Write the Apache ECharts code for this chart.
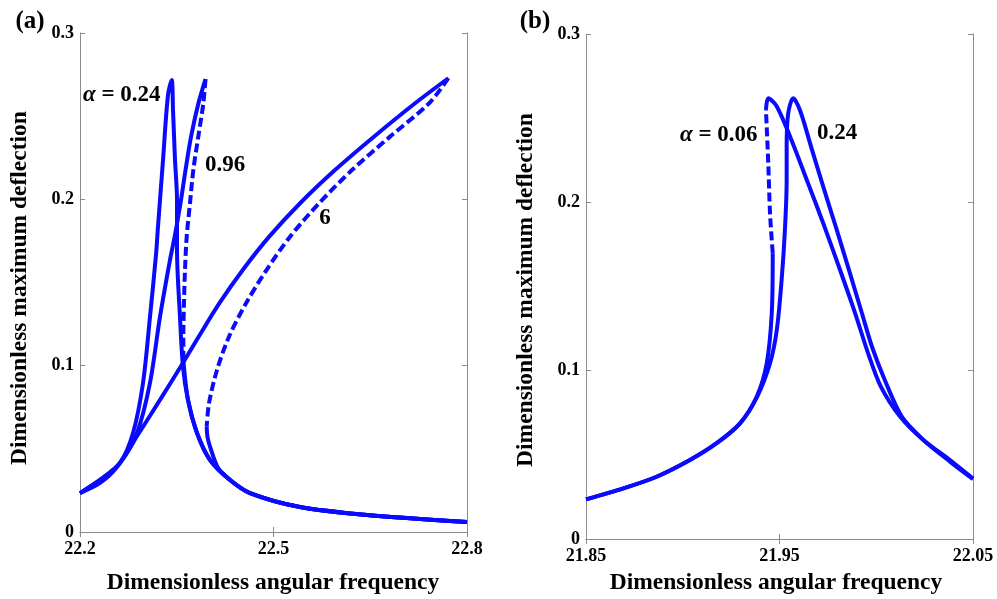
<!DOCTYPE html>
<html><head><meta charset="utf-8">
<script src="https://cdn.jsdelivr.net/npm/echarts@6/dist/echarts.min.js"></script>
<style>html,body{margin:0;padding:0;background:#fff}#c{width:997px;height:599px}</style>
</head><body><div id="c"></div>
<script>
// ---------- Panel (a) data ----------
const A024_f = [22.2, 22.231, 22.262, 22.2822, 22.2977, 22.3085, 22.3178, 22.3209, 22.3287, 22.3364, 22.3422, 22.3442, 22.3473, 22.3504, 22.3504, 22.355, 22.3597, 22.3674, 22.3814, 22.4016, 22.4326, 22.4636, 22.5411, 22.645, 22.8];
const A024_v = [0.0234, 0.0313, 0.0415, 0.0595, 0.0896, 0.1293, 0.1665, 0.1834, 0.2236, 0.2627, 0.2717, 0.2537, 0.2236, 0.1996, 0.1695, 0.1293, 0.0992, 0.0794, 0.0595, 0.0433, 0.0313, 0.0234, 0.0150, 0.0102, 0.0060];

const A096_solid_f = [22.2, 22.231, 22.262, 22.2884, 22.3085, 22.324, 22.3395, 22.3473, 22.3566, 22.3636, 22.3721, 22.3837, 22.3946];
const A096_solid_v = [0.0234, 0.0313, 0.0415, 0.0595, 0.0896, 0.1293, 0.1635, 0.1786, 0.1996, 0.2176, 0.2375, 0.2579, 0.2723];
const A096_dash_f = [22.3946, 22.3912, 22.3834, 22.3757, 22.3705, 22.3654, 22.3628, 22.3612, 22.3602, 22.3602];
const A096_dash_v = [0.2723, 0.2577, 0.2377, 0.2176, 0.1976, 0.1775, 0.1575, 0.1377, 0.1174, 0.1034];
const A096_low_f = [22.3602, 22.3674, 22.3814, 22.4016, 22.4326, 22.4636, 22.5411, 22.645, 22.8];
const A096_low_v = [0.1034, 0.0794, 0.0595, 0.0433, 0.0313, 0.0234, 0.0150, 0.0102, 0.0060];

const A6_solid_f = [22.2, 22.231, 22.2574, 22.2915, 22.324, 22.3586, 22.3837, 22.4164, 22.4523, 22.493, 22.5416, 22.5953, 22.6552, 22.72, 22.771];
const A6_solid_v = [0.0234, 0.0295, 0.0391, 0.0595, 0.0794, 0.1010, 0.1172, 0.1377, 0.1575, 0.1774, 0.1978, 0.2176, 0.2375, 0.2579, 0.2728];
const A6_dash_f = [22.771, 22.7411, 22.6806, 22.6217, 22.5705, 22.5256, 22.4891, 22.4574, 22.431, 22.4124, 22.4, 22.3964];
const A6_dash_v = [0.2728, 0.2577, 0.2377, 0.2176, 0.1976, 0.1775, 0.1575, 0.1375, 0.1174, 0.0974, 0.0774, 0.0633];
const A6_low_f = [22.3964, 22.3977, 22.4016, 22.4144, 22.4326, 22.4636, 22.5411, 22.645, 22.8];
const A6_low_v = [0.0633, 0.0571, 0.0513, 0.0383, 0.0313, 0.0234, 0.0150, 0.0102, 0.0060];

// ---------- Panel (b) data ----------
const B006_left_f = [21.85, 21.8693, 21.8865, 21.9037, 21.9175, 21.9296, 21.9382, 21.9434, 21.946, 21.9465];
const B006_left_v = [0.0235, 0.0301, 0.0370, 0.0469, 0.0569, 0.0687, 0.0845, 0.1044, 0.1341, 0.1697];
const B006_dash_f = [21.9465, 21.9451, 21.9442, 21.943];
const B006_dash_v = [0.1697, 0.1935, 0.2232, 0.2549];
const B006_right_f = [21.943, 21.9442, 21.9484, 21.9555, 21.9641, 21.9726, 21.9813, 21.9891, 21.9958, 22.0024, 22.0123, 22.0243, 22.0381, 22.05];
const B006_right_v = [0.2549, 0.2618, 0.2574, 0.2390, 0.2133, 0.1876, 0.1598, 0.1341, 0.1103, 0.0905, 0.0727, 0.0588, 0.0469, 0.0359];

const B024_f = [21.85, 21.8693, 21.8865, 21.9037, 21.9175, 21.9296, 21.9386, 21.9451, 21.9486, 21.9511, 21.9528, 21.9537, 21.9537, 21.9545, 21.9571, 21.9609, 21.9663, 21.9726, 21.9796, 21.9864, 21.9926, 21.9978, 22.0044, 22.0133, 22.0247, 22.0384, 22.05];
const B024_v = [0.0235, 0.0301, 0.0370, 0.0469, 0.0569, 0.0687, 0.0849, 0.1044, 0.1242, 0.1539, 0.1836, 0.2133, 0.2331, 0.2529, 0.2618, 0.2537, 0.2331, 0.2093, 0.1836, 0.1579, 0.1341, 0.1142, 0.0945, 0.0725, 0.0585, 0.0457, 0.0356];

// ---------- ticks & labels ----------
const A_xticks = [22.2, 22.5, 22.8];
const B_xticks = [21.85, 21.95, 22.05];
const Y_ticks = [0, 0.1, 0.2, 0.3];
const xTitle = 'Dimensionless angular frequency';
const yTitle = 'Dimensionless maximum deflection';

const zip = (f, v) => f.map((x, i) => [x, v[i]]);
const FONT = "'Liberation Serif','Times New Roman',serif";
const BLUE = '#0a0aff';
const GRAY = '#8c8c8c';

function line(gi, f, v, dashed) {
  return {
    type: 'line', xAxisIndex: gi * 2, yAxisIndex: gi * 2,
    data: zip(f, v), showSymbol: false, symbol: 'none', smooth: 0.3,
    lineStyle: { color: BLUE, width: 4, type: dashed ? [9, 4] : 'solid', cap: 'butt', join: 'round' },
    silent: true, animation: false
  };
}

function xAxes(gi, min, max, ticks) {
  return [
    { type: 'value', gridIndex: gi, position: 'bottom', min, max,
      axisLine: { show: true, lineStyle: { color: GRAY, width: 1 } },
      axisTick: { show: true, inside: true, length: 5, customValues: ticks, lineStyle: { color: GRAY } },
      axisLabel: { customValues: ticks, margin: 8, color: '#000', fontFamily: FONT, fontWeight: 'bold', fontSize: 18,
                   formatter: v => String(+v.toFixed(2)) },
      splitLine: { show: false } },
    { type: 'value', gridIndex: gi, position: 'top', min, max,
      axisLine: { show: true, lineStyle: { color: GRAY, width: 1 } },
      axisTick: { show: true, inside: true, length: 5, customValues: ticks, lineStyle: { color: GRAY } },
      axisLabel: { show: false }, splitLine: { show: false } }
  ];
}
function yAxes(gi) {
  return [
    { type: 'value', gridIndex: gi, position: 'left', min: 0, max: 0.3,
      axisLine: { show: true, lineStyle: { color: GRAY, width: 1 } },
      axisTick: { show: true, inside: true, length: 5, customValues: Y_ticks, lineStyle: { color: GRAY } },
      axisLabel: { customValues: Y_ticks, margin: 6, color: '#000', fontFamily: FONT, fontWeight: 'bold', fontSize: 18,
                   formatter: v => String(+v.toFixed(1)) },
      splitLine: { show: false } },
    { type: 'value', gridIndex: gi, position: 'right', min: 0, max: 0.3,
      axisLine: { show: true, lineStyle: { color: GRAY, width: 1 } },
      axisTick: { show: true, inside: true, length: 5, customValues: Y_ticks, lineStyle: { color: GRAY } },
      axisLabel: { show: false }, splitLine: { show: false } }
  ];
}

function txt(x, y, text, size, opts) {
  return Object.assign({
    type: 'text', x, y,
    style: Object.assign({ text, fontFamily: FONT, fontWeight: 'bold', fontSize: size, fill: '#000',
      align: 'center', verticalAlign: 'middle' }, (opts && opts.style) || {})
  }, (opts && opts.el) || {});
}
const alphaRich = { i: { fontStyle: 'italic', fontFamily: FONT, fontWeight: 'bold', fontSize: 23 } };
function alphaText(x, y, text) {
  return { type: 'text', x, y, style: { text, rich: alphaRich, fontFamily: FONT, fontWeight: 'bold', fontSize: 23,
           fill: '#000', align: 'left', verticalAlign: 'middle' } };
}

const option = {
  backgroundColor: '#fff',
  animation: false,
  grid: [
    { left: 80, top: 33, width: 387, height: 499, containLabel: false },
    { left: 586, top: 34, width: 387, height: 505, containLabel: false }
  ],
  xAxis: [...xAxes(0, 22.2, 22.8, A_xticks), ...xAxes(1, 21.85, 22.05, B_xticks)],
  yAxis: [...yAxes(0), ...yAxes(1)],
  series: [
    line(0, A024_f, A024_v, false),
    line(0, A096_solid_f, A096_solid_v, false),
    line(0, A096_dash_f, A096_dash_v, true),
    line(0, A096_low_f, A096_low_v, false),
    line(0, A6_solid_f, A6_solid_v, false),
    line(0, A6_dash_f, A6_dash_v, true),
    line(0, A6_low_f, A6_low_v, false),
    line(1, B006_left_f, B006_left_v, false),
    line(1, B006_dash_f, B006_dash_v, true),
    line(1, B006_right_f, B006_right_v, false),
    line(1, B024_f, B024_v, false)
  ],
  graphic: [
    txt(30, 22, '(a)', 25),
    txt(535, 22, '(b)', 25),
    txt(273, 583, xTitle, 23.5),
    txt(776, 583, xTitle, 23.5),
    txt(20, 288, yTitle, 23.5, { el: { rotation: Math.PI / 2 } }),
    txt(526, 290, yTitle, 23.5, { el: { rotation: Math.PI / 2 } }),
    alphaText(83, 95, '{i|α} = 0.24'),
    txt(225, 165, '0.96', 23),
    txt(325, 218, '6', 23),
    alphaText(680, 135, '{i|α} = 0.06'),
    txt(837, 133, '0.24', 23)
  ]
};
const chart = echarts.init(document.getElementById('c'), null, { renderer: 'canvas' });
chart.setOption(option);
</script>
</body></html>
